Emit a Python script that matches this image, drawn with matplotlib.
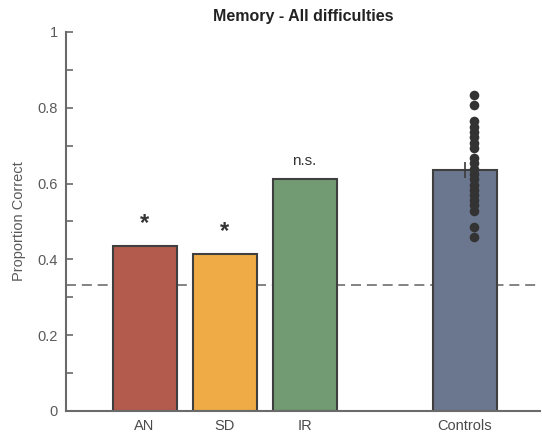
import matplotlib.pyplot as plt
import numpy as np

plt.rcParams['font.family'] = ['Liberation Sans', 'DejaVu Sans']

groups = ['AN', 'SD', 'IR', 'Controls']
positions = [1, 2, 3, 5]
means = [0.435, 0.414, 0.612, 0.636]
colors = ['#B35B4C', '#EFAC46', '#739B73', '#6B778F']
marks = ['*', '*', 'n.s.', '']
controls_sem = 0.022
controls_scores = [0.833, 0.806, 0.764, 0.750, 0.736, 0.722, 0.708, 0.694,
                   0.667, 0.653, 0.639, 0.625, 0.611, 0.597, 0.583, 0.569,
                   0.556, 0.542, 0.528, 0.486, 0.458]
chance = 1 / 3

fig = plt.figure(figsize=(5.42, 4.32), dpi=100)
ax = fig.add_axes([0.122, 0.049, 0.874, 0.877])

ax.bar(positions, means, width=0.8, color=colors, edgecolor='#3f3f3f', linewidth=1.5, zorder=2)
ax.errorbar(positions[3], means[3], yerr=controls_sem, fmt='none',
            ecolor='#3a3a3a', elinewidth=1.2, capsize=0, zorder=3)
ax.scatter([positions[3] + 0.12] * len(controls_scores), controls_scores,
           s=48, color='#333333', zorder=4, linewidths=0)

for p, m, t in zip(positions, means, marks):
    if t == '*':
        ax.text(p, m + 0.06, t, ha='center', va='center', fontsize=17,
                fontweight='bold', color='#333333')
    elif t:
        ax.text(p, m + 0.048, t, ha='center', va='center', fontsize=11, color='#333333')

ax.axhline(chance, color='#6e6e6e', linestyle=(0, (6, 3.5)), linewidth=1.2, zorder=1)

ax.set_xlim(0.02, 5.94)
ax.set_ylim(0, 1)
ax.set_xticks(positions)
ax.set_xticklabels(groups, fontsize=10.5, color='#4a4a4a')
ax.tick_params(axis='x', length=0, pad=6)
ax.set_yticks([0, 0.2, 0.4, 0.6, 0.8, 1])
ax.set_yticklabels(['0', '0.2', '0.4', '0.6', '0.8', '1'], fontsize=10.5, color='#5a5a5a')
ax.set_yticks(np.arange(0.1, 1, 0.2), minor=True)
ax.tick_params(axis='y', which='both', direction='in', length=5, color='#6a6a6a', width=1.2, pad=6)

for side in ['top', 'right']:
    ax.spines[side].set_visible(False)
for side in ['left', 'bottom']:
    ax.spines[side].set_color('#6a6a6a')
    ax.spines[side].set_linewidth(1.5)

ax.set_ylabel('Proportion Correct', fontsize=10.5, color='#5a5a5a', labelpad=8)
ax.set_title('Memory - All difficulties', fontsize=11.5, fontweight='bold', color='#222222', pad=8)

fig.savefig('out.png', dpi=100)
